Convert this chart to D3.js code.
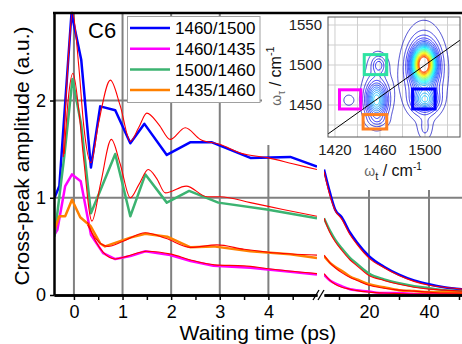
<!DOCTYPE html>
<html>
<head>
<meta charset="utf-8">
<script src="https://cdn.jsdelivr.net/npm/d3@7"></script>
<style>
body { margin: 0; background: #fff; }
svg { display: block; font-family: "Liberation Sans", Arial, sans-serif; }
</style>
</head>
<body>
<script>
// ---- data ----
const seriesNames = ['1460/1500', '1460/1435', '1500/1460', '1435/1460'];

// early waiting times (ps), measured points
const tBlue = [-0.40, -0.30, -0.05, 0.15, 0.35, 0.54, 0.85, 1.16, 1.45, 1.91, 2.39, 2.84, 3.63, 4.45, 5.0];
const yBlue = [1.00, 1.12, 2.90, 2.42, 1.31, 1.94, 1.90, 1.56, 1.76, 1.44, 1.57, 1.57, 1.41, 1.42, 1.32];
const tMagenta = [-0.40, -0.34, -0.18, -0.04, 0.14, 0.35, 0.60, 0.85, 1.16, 1.47, 1.98, 2.40, 2.87, 3.63, 4.45, 5.0];
const yMagenta = [0.62, 0.67, 1.12, 1.24, 1.17, 0.62, 0.43, 0.37, 0.40, 0.45, 0.41, 0.35, 0.30, 0.28, 0.24, 0.21];
const tGreen = [-0.40, -0.20, -0.03, 0.15, 0.35, 0.85, 1.16, 1.47, 1.91, 2.37, 2.97, 3.97, 5.0];
const yGreen = [0.60, 1.42, 2.22, 1.75, 0.84, 1.45, 0.81, 1.24, 0.95, 1.07, 0.95, 0.88, 0.79];
const tOrange = [-0.40, -0.30, -0.18, -0.04, 0.13, 0.34, 0.54, 0.64, 1.16, 1.47, 1.92, 2.40, 2.87, 3.63, 4.45, 5.0];
const yOrange = [0.67, 0.81, 0.81, 0.98, 0.80, 0.71, 0.53, 0.50, 0.59, 0.63, 0.60, 0.49, 0.50, 0.45, 0.42, 0.38];

// fits (red) in the early window
const tFitBlue = [-0.22, -0.10, -0.03, 0.10, 0.20, 0.35, 0.50, 0.75, 0.95, 1.16, 1.33, 1.50, 1.75, 1.98, 2.29, 2.60, 3.00, 3.42, 4.00, 4.50, 5.0];
const yFitBlue = [1.42, 2.55, 2.91, 2.35, 1.75, 1.36, 1.75, 2.21, 1.95, 1.58, 1.72, 1.87, 1.75, 1.60, 1.72, 1.60, 1.55, 1.46, 1.41, 1.35, 1.29];
const tFitGreen = [-0.20, -0.12, -0.02, 0.10, 0.20, 0.37, 0.55, 0.77, 0.95, 1.16, 1.33, 1.53, 1.70, 1.88, 2.31, 2.74, 3.01, 3.63, 4.30, 5.0];
const yFitGreen = [1.45, 2.00, 2.28, 1.90, 1.40, 0.76, 1.15, 1.60, 1.35, 1.00, 1.13, 1.29, 1.20, 1.05, 1.12, 1.01, 1.01, 0.95, 0.88, 0.81];
const tFitOrange = [0.28, 0.45, 0.70, 1.00, 1.47, 1.90, 2.40, 2.94, 3.50, 4.00, 5.0];
const yFitOrange = [0.72, 0.58, 0.50, 0.55, 0.64, 0.58, 0.49, 0.515, 0.47, 0.44, 0.41];
const tFitMagenta = [0.28, 0.45, 0.60, 0.85, 1.10, 1.50, 2.00, 2.40, 2.90, 3.50, 4.00, 5.0];
const yFitMagenta = [0.75, 0.55, 0.44, 0.37, 0.40, 0.45, 0.42, 0.36, 0.31, 0.30, 0.27, 0.22];

// late waiting times (ps)
const tLate = [5, 7, 8.7, 10.9, 13.7, 16, 20, 25, 30, 35, 40, 45, 51];
const yBlueLate = [1.29, 1.05, 0.88, 0.80, 0.64, 0.54, 0.40, 0.29, 0.21, 0.15, 0.11, 0.08, 0.06];
const yMagentaLate = [0.21, 0.15, 0.12, 0.09, 0.06, 0.05, 0.035, 0.02, 0.02, 0.01, 0.01, 0.01, 0.01];
const yGreenLate = [0.79, 0.66, 0.57, 0.48, 0.38, 0.32, 0.22, 0.16, 0.12, 0.09, 0.07, 0.05, 0.04];
const yOrangeLate = [0.40, 0.33, 0.29, 0.25, 0.19, 0.16, 0.11, 0.08, 0.05, 0.04, 0.03, 0.03, 0.02];
const yFitBlueLate = [1.27, 1.02, 0.87, 0.78, 0.62, 0.52, 0.38, 0.28, 0.20, 0.14, 0.10, 0.08, 0.06];
const yFitMagentaLate = [0.22, 0.15, 0.11, 0.08, 0.06, 0.045, 0.03, 0.02, 0.015, 0.01, 0.01, 0.01, 0.01];
const yFitGreenLate = [0.79, 0.64, 0.55, 0.46, 0.36, 0.30, 0.20, 0.15, 0.11, 0.08, 0.06, 0.05, 0.04];
const yFitOrangeLate = [0.41, 0.33, 0.28, 0.23, 0.18, 0.15, 0.10, 0.07, 0.05, 0.04, 0.03, 0.02, 0.02];

const xTicksEarly = [0, 1, 2, 3, 4];
const xMinorEarly = [0.5, 1.5, 2.5, 3.5, 4.5];
const xTicksLate = [20, 40];
const xMinorLate = [10, 30, 50];
const yTicks = [0, 1, 2];

// inset 2D spectrum: peaks [w_t, w_tau, sigma_t, sigma_tau, amplitude]
const peaks = [
    [1499, 1501, 6, 13, 1.0],
    [1499, 1492, 11, 32, 0.22],
    [1500, 1456, 7, 9, 0.28],
    [1500, 1420, 4, 10, 0.06],
    [1457, 1456, 6, 14, 0.36],
    [1459, 1500, 4, 7, 0.12],
    [1457, 1470, 9, 35, 0.06],
    [1432, 1456, 4, 6, 0.05],
    [1458, 1430, 6, 5, 0.05]
];
const contourLevels = d3.range(0.03, 1.0, 0.035);
const insetXTicks = [1420, 1460, 1500];
const insetYTicks = [1450, 1500, 1550];
const insetXGrid = [1420, 1440, 1460, 1480, 1500, 1520];
const insetYGrid = [1425, 1450, 1475, 1500, 1525, 1550];
// boxes [t0, t1, tau0, tau1] in the order green, magenta, orange, blue
const boxes = [[1446, 1466, 1488, 1513], [1424, 1443, 1445, 1469], [1445, 1466, 1420, 1438], [1489, 1509, 1445, 1470]];
const boxColors = ['#2ee3a2', '#ff00ff', '#ff8020', '#0000ff'];

const colors = ['#0000ff', '#ff00ff', '#3cb371', '#ff8000'];
const zip = (a, b) => a.map((v, i) => [v, b[i]]);
const early = [zip(tBlue, yBlue), zip(tMagenta, yMagenta), zip(tGreen, yGreen), zip(tOrange, yOrange)];
const earlyFit = [zip(tFitBlue, yFitBlue), zip(tFitMagenta, yFitMagenta), zip(tFitGreen, yFitGreen), zip(tFitOrange, yFitOrange)];
const late = [yBlueLate, yMagentaLate, yGreenLate, yOrangeLate].map(v => zip(tLate, v));
const lateFit = [yFitBlueLate, yFitMagentaLate, yFitGreenLate, yFitOrangeLate].map(v => zip(tLate, v));

// ---- layout ----
const W = 462, H = 344;
const svg = d3.select('body').append('svg').attr('width', W).attr('height', H);

const xL = d3.scaleLinear().domain([-0.41, 5.0]).range([54, 317]);
const xR = d3.scaleLinear().domain([5, 51]).range([324, 462]);
const y = d3.scaleLinear().domain([0, 2.9]).range([295, 13]);

// grid
const grid = svg.append('g').attr('stroke', '#808080').attr('stroke-width', 2);
grid.selectAll('.gl').data(xTicksEarly).enter().append('line')
    .attr('x1', d => xL(d)).attr('x2', d => xL(d)).attr('y1', y(0)).attr('y2', y(2.9));
grid.selectAll('.gr').data(xTicksLate).enter().append('line')
    .attr('x1', d => xR(d)).attr('x2', d => xR(d)).attr('y1', y(0)).attr('y2', y(2.9));
grid.selectAll('.gh').data([1, 2]).enter().append('line')
    .attr('x1', 54).attr('x2', W).attr('y1', d => y(d)).attr('y2', d => y(d));

// white area behind the inset
svg.append('rect').attr('x', 262).attr('y', 14).attr('width', 200).attr('height', 131).attr('fill', '#fff');
svg.append('rect').attr('x', 327).attr('y', 145).attr('width', 135).attr('height', 45).attr('fill', '#fff');

// clips
const defs = svg.append('defs');
defs.append('clipPath').attr('id', 'clipL').append('rect')
    .attr('x', 54).attr('y', 10).attr('width', 263).attr('height', 286);
defs.append('clipPath').attr('id', 'clipR').append('rect')
    .attr('x', 324).attr('y', 10).attr('width', 138).attr('height', 286);
defs.append('clipPath').attr('id', 'clipI').append('rect')
    .attr('x', 328).attr('y', 17).attr('width', 132).attr('height', 120);

const lineL = d3.line().x(d => xL(d[0])).y(d => y(d[1]));
const lineR = d3.line().x(d => xR(d[0])).y(d => y(d[1])).curve(d3.curveMonotoneX);
const fitL = d3.line().x(d => xL(d[0])).y(d => y(d[1])).curve(d3.curveMonotoneX);

const gL = svg.append('g').attr('clip-path', 'url(#clipL)').attr('fill', 'none');
const gR = svg.append('g').attr('clip-path', 'url(#clipR)').attr('fill', 'none');
gL.selectAll('.s').data(early).enter().append('path')
    .attr('d', lineL).attr('stroke', (d, i) => colors[i]).attr('stroke-width', 2.5).attr('stroke-linejoin', 'round');
gL.selectAll('.f').data(earlyFit).enter().append('path')
    .attr('d', fitL).attr('stroke', '#ff0000').attr('stroke-width', 1.1);
gR.selectAll('.s').data(late).enter().append('path')
    .attr('d', lineR).attr('stroke', (d, i) => colors[i]).attr('stroke-width', 2.5);
gR.selectAll('.f').data(lateFit).enter().append('path')
    .attr('d', lineR).attr('stroke', '#ff0000').attr('stroke-width', 1.1);

// axes
const fmt = d3.format('d');
const axisStyle = g => {
    g.select('.domain').attr('stroke', '#000').attr('stroke-width', 2.5);
    g.selectAll('.tick line').attr('stroke', '#000').attr('stroke-width', 1.5);
    g.selectAll('.tick text').attr('font-size', 18).attr('fill', '#000').attr('font-family', '"Liberation Sans", Arial, sans-serif');
};
svg.append('g').attr('transform', 'translate(0,295)')
    .call(d3.axisBottom(xL).tickValues(xMinorEarly).tickSize(5).tickSizeOuter(0).tickFormat(''))
    .call(axisStyle);
svg.append('g').attr('transform', 'translate(0,295)')
    .call(d3.axisBottom(xL).tickValues(xTicksEarly).tickSize(5).tickSizeOuter(0).tickPadding(5).tickFormat(fmt))
    .call(axisStyle);
svg.append('g').attr('transform', 'translate(0,295)')
    .call(d3.axisBottom(xR).tickValues(xMinorLate).tickSize(5).tickSizeOuter(0).tickFormat(''))
    .call(axisStyle);
svg.append('g').attr('transform', 'translate(0,295)')
    .call(d3.axisBottom(xR).tickValues(xTicksLate).tickSize(5).tickSizeOuter(0).tickPadding(5).tickFormat(fmt))
    .call(axisStyle);
svg.append('g').attr('transform', 'translate(54,0)')
    .call(d3.axisLeft(y).tickValues(yTicks).tickSize(4).tickSizeOuter(0).tickPadding(4).tickFormat(fmt))
    .call(axisStyle);
svg.append('line').attr('x1', 53).attr('x2', W).attr('y1', 13).attr('y2', 13)
    .attr('stroke', '#000').attr('stroke-width', 2.5);

// axis break marks
svg.append('g').attr('stroke', '#000').attr('stroke-width', 1.3)
    .selectAll('line').data([313, 318]).enter().append('line')
    .attr('x1', d => d).attr('y1', 300).attr('x2', d => d + 6).attr('y2', 290);

// titles
svg.append('text').attr('x', 258).attr('y', 340).attr('text-anchor', 'middle')
    .attr('font-size', 21).text('Waiting time (ps)');
svg.append('text').attr('transform', 'translate(22,156) rotate(-90)').attr('text-anchor', 'middle')
    .attr('dy', '0.35em').attr('font-size', 21).text('Cross-peak amplitude (a.u.)');
svg.append('text').attr('x', 88).attr('y', 38).attr('font-size', 22).text('C6');

// legend
const leg = svg.append('g');
leg.append('rect').attr('x', 127.5).attr('y', 16.5).attr('width', 132.5).attr('height', 86)
    .attr('fill', '#fff').attr('stroke', '#a0a0a0').attr('stroke-width', 1);
const rows = leg.selectAll('.row').data(seriesNames).enter().append('g')
    .attr('transform', (d, i) => `translate(0,${28 + i * 20.7})`);
rows.append('line').attr('x1', 130).attr('x2', 170).attr('stroke', (d, i) => colors[i]).attr('stroke-width', 2.5);
rows.append('text').attr('x', 175).attr('dy', '0.36em').attr('font-size', 17).text(d => d);

// ---- inset ----
const xi = d3.scaleLinear().domain([1413.8, 1531.1]).range([328, 460]);
const yi = d3.scaleLinear().domain([1410, 1560]).range([137, 17]);
const ins = svg.append('g');
ins.append('g').attr('stroke', '#cfcfcf').attr('stroke-width', 1)
    .call(g => g.selectAll('.vx').data(insetXGrid).enter().append('line')
        .attr('x1', d => xi(d)).attr('x2', d => xi(d)).attr('y1', 17).attr('y2', 137))
    .call(g => g.selectAll('.hy').data(insetYGrid).enter().append('line')
        .attr('y1', d => yi(d)).attr('y2', d => yi(d)).attr('x1', 328).attr('x2', 460));

const t0 = 1410, tau0 = 1405, nT = 126, nTau = 161;
const field = new Float64Array(nT * nTau);
for (let j = 0; j < nTau; ++j) {
    for (let i = 0; i < nT; ++i) {
        const wt = t0 + i, wtau = tau0 + j;
        let v = 0;
        peaks.forEach(p => {
            v += p[4] * Math.exp(-((wt - p[0]) ** 2) / (2 * p[2] * p[2]) - ((wtau - p[1]) ** 2) / (2 * p[3] * p[3]));
        });
        field[i + j * nT] = v;
    }
}
const fmax = d3.max(field);
const jet = d3.scaleLinear().domain([0, 0.12, 0.37, 0.62, 0.87, 1])
    .range(['#1a1ab4', '#0000ff', '#00ffff', '#ffff00', '#ff0000', '#900000']);
const contours = d3.contours().size([nT, nTau]).thresholds(contourLevels)(field);
const proj = d3.geoTransform({
    point(px, py) { this.stream.point(xi(t0 + px - 0.5), yi(tau0 + py - 0.5)); }
});
const cpath = d3.geoPath(proj);
ins.append('g').attr('clip-path', 'url(#clipI)').attr('fill', 'none')
    .selectAll('path').data(contours).enter().append('path')
    .attr('d', cpath).attr('stroke', d => jet(d.value / fmax)).attr('stroke-width', 0.8);

ins.append('line').attr('clip-path', 'url(#clipI)')
    .attr('x1', xi(1400)).attr('y1', yi(1400)).attr('x2', xi(1560)).attr('y2', yi(1560))
    .attr('stroke', '#000').attr('stroke-width', 1);

ins.selectAll('.box').data(boxes).enter().append('rect')
    .attr('x', d => xi(d[0])).attr('y', d => yi(d[3]))
    .attr('width', d => xi(d[1]) - xi(d[0])).attr('height', d => yi(d[2]) - yi(d[3]))
    .attr('fill', 'none').attr('stroke', (d, i) => boxColors[i]).attr('stroke-width', 3);

ins.append('rect').attr('x', 328).attr('y', 17).attr('width', 132).attr('height', 120)
    .attr('fill', 'none').attr('stroke', '#555').attr('stroke-width', 1);

ins.selectAll('.xl').data(insetXTicks).enter().append('text')
    .attr('x', d => xi(d)).attr('y', 155).attr('text-anchor', 'middle').attr('font-size', 15).attr('fill', '#222')
    .text(d => d);
ins.selectAll('.yl').data(insetYTicks).enter().append('text')
    .attr('x', 322).attr('y', d => yi(d)).attr('dy', '0.35em').attr('text-anchor', 'end').attr('font-size', 15).attr('fill', '#222')
    .text(d => d);

const xt = ins.append('text').attr('x', 393).attr('y', 176).attr('text-anchor', 'middle').attr('fill', '#111');
xt.append('tspan').attr('font-size', 14).attr('fill', '#666').text('ω');
xt.append('tspan').attr('font-size', 11).attr('dy', 4).attr('fill', '#222').text('t');
xt.append('tspan').attr('font-size', 16).attr('dy', -4).text(' / cm');
xt.append('tspan').attr('font-size', 10).attr('dy', -6).text('-1');

const yt = ins.append('text').attr('transform', 'translate(281,76) rotate(-90)').attr('text-anchor', 'middle').attr('fill', '#111');
yt.append('tspan').attr('font-size', 14).attr('fill', '#666').text('ω');
yt.append('tspan').attr('font-size', 10).attr('dy', 4).attr('fill', '#666').text('τ');
yt.append('tspan').attr('font-size', 16).attr('dy', -4).text(' / cm');
yt.append('tspan').attr('font-size', 11).attr('dy', -7).text('-1');
</script>
</body>
</html>
